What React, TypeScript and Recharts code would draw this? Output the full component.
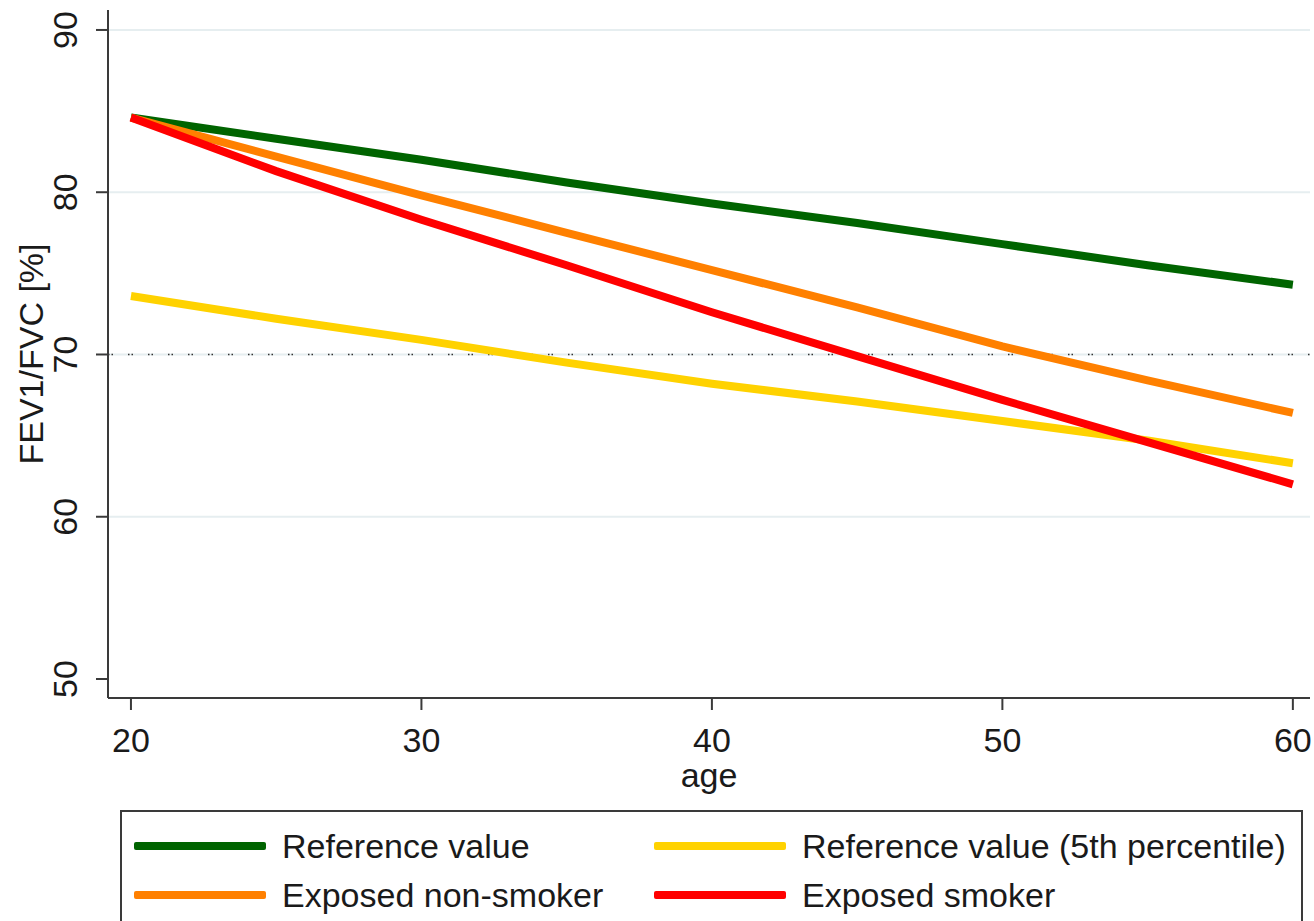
import React from 'react'
import { LineChart, Line, XAxis, YAxis, ReferenceLine, Legend } from 'recharts'

const ages = [20, 25, 30, 35, 40, 45, 50, 55, 60]
const referenceValue = [84.6, 83.3, 82.0, 80.6, 79.3, 78.1, 76.8, 75.5, 74.3]
const referenceP5 = [73.6, 72.2, 70.9, 69.5, 68.2, 67.1, 65.9, 64.7, 63.3]
const nonSmoker = [84.6, 82.2, 79.8, 77.5, 75.2, 72.9, 70.5, 68.4, 66.4]
const smoker = [84.6, 81.3, 78.3, 75.5, 72.6, 69.9, 67.2, 64.6, 62.0]

const yTicks = [50, 60, 70, 80, 90]
const xTicks = [20, 30, 40, 50, 60]
const gridValues = [60, 70, 80, 90]

const series = [
  { key: 'ref', name: 'Reference value', color: '#006400' },
  { key: 'p5', name: 'Reference value (5th percentile)', color: '#FFD200' },
  { key: 'nonSmoker', name: 'Exposed non-smoker', color: '#FF8000' },
  { key: 'smoker', name: 'Exposed smoker', color: '#FF0000' },
]

const data = ages.map((age, i) => ({
  age,
  ref: referenceValue[i],
  p5: referenceP5[i],
  nonSmoker: nonSmoker[i],
  smoker: smoker[i],
}))

const FONT = '"Liberation Sans", Arial, sans-serif'
const AXIS = '#3a3a3a'

function YTick({ y, payload }: any) {
  return (
    <text
      x={65}
      y={y}
      transform={`rotate(-90, 65, ${y})`}
      textAnchor="middle"
      dominantBaseline="central"
      fontSize={34}
      fontFamily={FONT}
      fill="#1a1a1a"
    >
      {payload.value}
    </text>
  )
}

function XTick({ x, payload }: any) {
  return (
    <text x={x} y={740} textAnchor="middle" dominantBaseline="central" fontSize={34} fontFamily={FONT} fill="#1a1a1a">
      {payload.value}
    </text>
  )
}

function LegendBox() {
  const item = (s: { name: string; color: string }, left: number, top: number) => (
    <div key={s.name} style={{ position: 'absolute', left, top, display: 'flex', alignItems: 'center', height: 40 }}>
      <div style={{ width: 132, height: 8, background: s.color, borderRadius: 2 }} />
      <span style={{ marginLeft: 16, fontSize: 34, fontFamily: FONT, color: '#1a1a1a', whiteSpace: 'nowrap' }}>{s.name}</span>
    </div>
  )
  return (
    <div
      style={{
        position: 'absolute',
        left: 120,
        top: 810,
        width: 1183,
        height: 140,
        border: `2px solid ${AXIS}`,
        boxSizing: 'border-box',
        background: '#fff',
      }}
    >
      {item(series[0], 12, 14)}
      {item(series[1], 532, 14)}
      {item(series[2], 12, 63)}
      {item(series[3], 532, 63)}
    </div>
  )
}

export default function App() {
  return (
    <div style={{ position: 'absolute', left: 0, top: 0, width: 1314, height: 921, overflow: 'hidden', background: '#fff' }}>
      <LineChart width={1314} height={921} data={data} margin={{ top: 10, right: 4, bottom: 123, left: 0 }}>
        <XAxis
          dataKey="age"
          type="number"
          domain={[19.21, 60.59]}
          ticks={xTicks}
          allowDataOverflow
          height={100}
          tickSize={12}
          tick={<XTick />}
          stroke={AXIS}
          strokeWidth={2}
          label={{ value: 'age', position: 'center', dy: 27, fontSize: 34, fontFamily: FONT, fill: '#1a1a1a' }}
        />
        <YAxis
          type="number"
          domain={[48.83, 91.23]}
          ticks={yTicks}
          allowDataOverflow
          width={108}
          tickSize={12}
          tick={<YTick />}
          stroke={AXIS}
          strokeWidth={2}
          label={{
            value: 'FEV1/FVC [%]',
            angle: -90,
            position: 'insideLeft',
            dx: 26,
            fontSize: 34,
            fontFamily: FONT,
            fill: '#1a1a1a',
            style: { textAnchor: 'middle' },
          }}
        />
        {gridValues.map((v) => (
          <ReferenceLine key={v} y={v} stroke="#e6eef0" strokeWidth={2} />
        ))}
        <ReferenceLine y={70} stroke="#333" strokeWidth={1.5} strokeDasharray="1.5 2 1.5 15" />
        <Legend content={() => <LegendBox />} wrapperStyle={{ position: 'absolute', left: 0, top: 0, width: 0, height: 0 }} />
        {series.map((s) => (
          <Line
            key={s.key}
            dataKey={s.key}
            name={s.name}
            type="linear"
            stroke={s.color}
            strokeWidth={8}
            dot={false}
            activeDot={false}
            isAnimationActive={false}
          />
        ))}
      </LineChart>
    </div>
  )
}
